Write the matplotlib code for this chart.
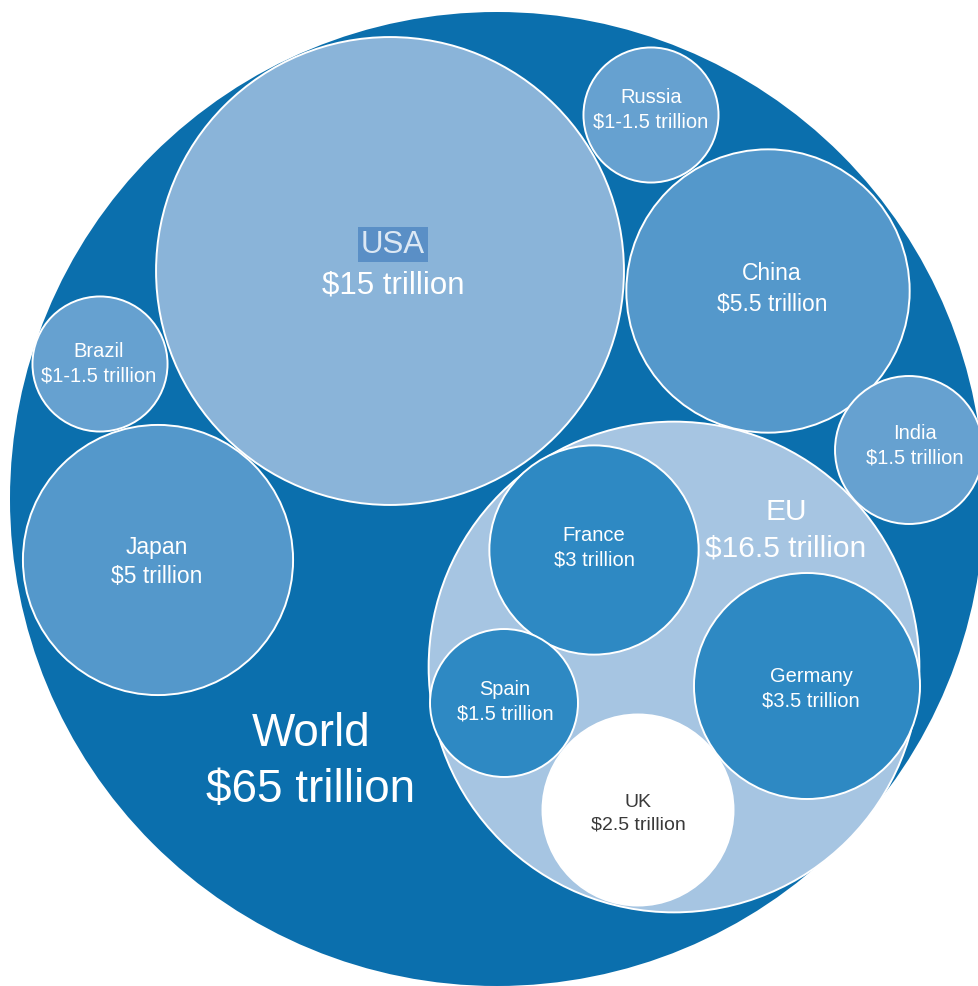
import matplotlib.pyplot as plt
from matplotlib.patches import Circle
import numpy as np

plt.rcParams['font.family'] = ['Liberation Sans', 'DejaVu Sans']

# GDP in trillions of dollars (Russia / Brazil shown as the $1-1.5 range midpoint)
names = ['World', 'USA', 'EU', 'China', 'Japan', 'France', 'Germany',
         'UK', 'Spain', 'India', 'Russia', 'Brazil']
values = [65, 15, 16.5, 5.5, 5, 3, 3.5, 2.5, 1.5, 1.5, 1.25, 1.25]
value_labels = ['$65 trillion', '$15 trillion', '$16.5 trillion', '$5.5 trillion',
                '$5 trillion', '$3 trillion', '$3.5 trillion', '$2.5 trillion',
                '$1.5 trillion', '$1.5 trillion', '$1-1.5 trillion', '$1-1.5 trillion']

# layout in pixel space: circle centre, label centre, font size, line spacing
layout = {
    'World':   ((497, 500), (311, 762), 33, 1.35),
    'USA':     ((390, 272), (393, 265), 22.5, 1.0),
    'EU':      ((674, 668), (786, 530), 21.5, 1.4),
    'China':   ((768, 292), (772, 289), 16.5, 1.4),
    'Japan':   ((158, 561), (157, 562), 16.5, 1.32),
    'France':  ((594, 551), (594, 548), 14.5, 1.38),
    'Germany': ((807, 687), (811, 689), 14.5, 1.38),
    'UK':      ((638, 811), (638, 814), 14, 1.42),
    'Spain':   ((504, 704), (505, 702), 14.3, 1.38),
    'India':   ((909, 451), (915, 446), 14.5, 1.38),
    'Russia':  ((651, 116), (651, 110), 14.5, 1.38),
    'Brazil':  ((100, 365), (99, 364), 14.5, 1.38),
}

fill = {
    'World': '#0b6fad', 'USA': '#8ab4d9', 'EU': '#a6c5e2',
    'China': '#5498cb', 'Japan': '#5498cb',
    'Russia': '#66a1d0', 'Brazil': '#66a1d0', 'India': '#66a1d0',
    'France': '#2e89c3', 'Germany': '#2e89c3', 'Spain': '#2e89c3',
    'UK': '#ffffff',
}

# area proportional to value
k = 487 ** 2 / 65

fig = plt.figure(figsize=(9.79, 9.87), dpi=100)
ax = fig.add_axes([0, 0, 1, 1])
ax.set_xlim(0, 979)
ax.set_ylim(987, 0)
ax.set_aspect('equal')
ax.axis('off')

for name, v in zip(names, values):
    (cx, cy), _, _, _ = layout[name]
    r = np.sqrt(v * k)
    ec = 'none' if name == 'World' else 'white'
    ax.add_patch(Circle((cx, cy), r, facecolor=fill[name], edgecolor=ec, linewidth=1.4))

for name, lab in zip(names, value_labels):
    _, (tx, ty), fs, ls = layout[name]
    color = '#3a3a3a' if name == 'UK' else 'white'
    if name == 'USA':
        ax.text(tx, ty - 20, name, ha='center', va='center', fontsize=fs,
                color='#dce8f4',
                bbox=dict(boxstyle='square,pad=0.08', facecolor='#5a8fc6', edgecolor='none'))
        ax.text(tx, ty + 20, lab, ha='center', va='center', fontsize=fs, color='white')
    else:
        ax.text(tx, ty, name + '\n' + lab, ha='center', va='center', fontsize=fs,
                color=color, linespacing=ls)

plt.savefig('out.png', dpi=100)
